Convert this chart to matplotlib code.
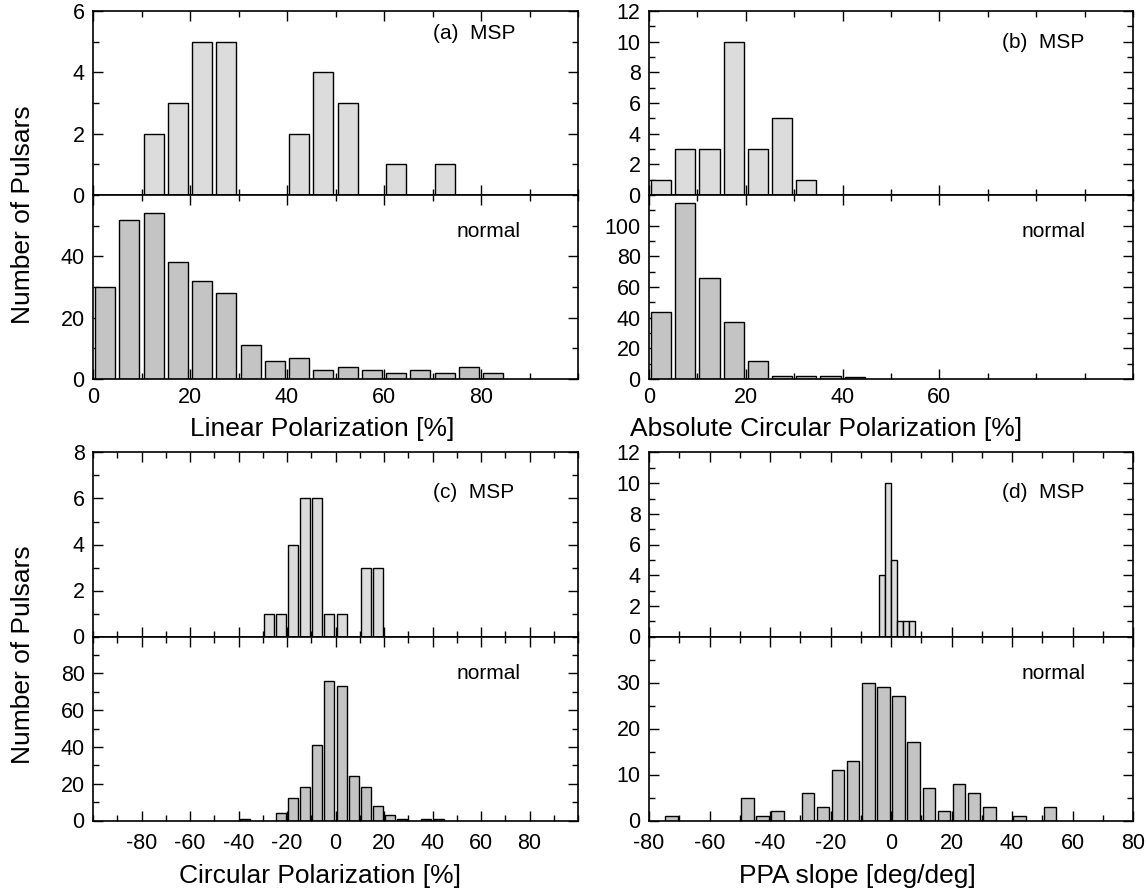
import matplotlib
matplotlib.use("Agg")
import matplotlib.pyplot as plt
from matplotlib.ticker import MultipleLocator, FixedLocator, NullFormatter

plt.rcParams['font.family'] = ['Liberation Sans', 'DejaVu Sans']

# (a) linear polarization, 5% bins
lin_msp_x = [12.5, 17.5, 22.5, 27.5, 42.5, 47.5, 52.5, 62.5, 72.5]
lin_msp_n = [2, 3, 5, 5, 2, 4, 3, 1, 1]
lin_norm_x = [2.5, 7.5, 12.5, 17.5, 22.5, 27.5, 32.5, 37.5, 42.5, 47.5,
              52.5, 57.5, 62.5, 67.5, 72.5, 77.5, 82.5]
lin_norm_n = [30, 52, 54, 38, 32, 28, 11, 6, 7, 3, 4, 3, 2, 3, 2, 4, 2]

# (b) absolute circular polarization, 5% bins
acp_msp_x = [2.5, 7.5, 12.5, 17.5, 22.5, 27.5, 32.5]
acp_msp_n = [1, 3, 3, 10, 3, 5, 1]
acp_norm_x = [2.5, 7.5, 12.5, 17.5, 22.5, 27.5, 32.5, 37.5, 42.5]
acp_norm_n = [44, 115, 66, 37, 12, 2, 2, 2, 1]

# (c) circular polarization, 5% bins
cp_msp_x = [-27.5, -22.5, -17.5, -12.5, -7.5, -2.5, 2.5, 12.5, 17.5]
cp_msp_n = [1, 1, 4, 6, 6, 1, 1, 3, 3]
cp_norm_x = [-37.5, -22.5, -17.5, -12.5, -7.5, -2.5, 2.5, 7.5, 12.5,
             17.5, 22.5, 27.5, 37.5, 42.5]
cp_norm_n = [1, 4, 12, 18, 41, 76, 73, 24, 18, 8, 3, 1, 1, 1]

# (d) PPA slope (MSP in 2 deg/deg bins, normal in 5 deg/deg bins)
ppa_msp_x = [-3, -1, 1, 3, 5, 7]
ppa_msp_n = [4, 10, 5, 1, 1, 1]
ppa_norm_x = [-72.5, -47.5, -42.5, -37.5, -27.5, -22.5, -17.5, -12.5, -7.5,
              -2.5, 2.5, 7.5, 12.5, 17.5, 22.5, 27.5, 32.5, 42.5, 52.5]
ppa_norm_n = [1, 5, 1, 2, 6, 3, 11, 13, 30, 29, 27, 17, 7, 2, 8, 6, 3, 1, 3]

MSP_COLOR = '#dcdcdc'
NORM_COLOR = '#c4c4c4'

W, H = 1147, 893
fig = plt.figure(figsize=(W / 100, H / 100), dpi=100)


def px_axes(x0, y0, x1, y1):
    return fig.add_axes([x0 / W, 1 - y1 / H, (x1 - x0) / W, (y1 - y0) / H])


def style(ax):
    ax.tick_params(which='both', direction='in', top=True, right=True,
                   labelsize=15.5, width=1.0)
    ax.tick_params(which='major', length=7)
    ax.tick_params(which='minor', length=4)
    ax.tick_params(axis='y', pad=6)
    for s in ax.spines.values():
        s.set_linewidth(1.2)


def panel(x0, x1, yt, xs_top, ns_top, w_top, xs_bot, ns_bot, w_bot,
          xlim, xmaj, xmin_step,
          ytop_max, ytop_step, ybot_max, ybot_step, ybot_minor,
          tag, tag_pos, norm_pos, xlabel, xlabel_x, xpad, xlabel_dy):
    yb = yt + 184
    ax1 = px_axes(x0, yt, x1, yb)
    ax2 = px_axes(x0, yb, x1, yb + 184)
    ax1.bar(xs_top, ns_top, width=w_top, color=MSP_COLOR,
            edgecolor='black', linewidth=1.0, zorder=2)
    ax2.bar(xs_bot, ns_bot, width=w_bot, color=NORM_COLOR,
            edgecolor='black', linewidth=1.0, zorder=2)
    for ax in (ax1, ax2):
        ax.set_xlim(*xlim)
        ax.xaxis.set_major_locator(FixedLocator(xmaj))
        ax.xaxis.set_minor_locator(MultipleLocator(xmin_step))
        style(ax)
    ax1.set_ylim(0, ytop_max)
    ax1.yaxis.set_major_locator(MultipleLocator(ytop_step))
    ax1.yaxis.set_minor_locator(MultipleLocator(ytop_step / 2))
    ax1.xaxis.set_major_formatter(NullFormatter())
    ax2.set_ylim(0, ybot_max)
    ax2.set_yticks(list(range(0, ybot_max, ybot_step)))
    ax2.yaxis.set_minor_locator(MultipleLocator(ybot_minor))
    ax2.set_xticklabels([str(v) for v in xmaj])
    ax2.tick_params(axis='x', pad=xpad)
    ax1.text(tag_pos[0], tag_pos[1], tag, transform=ax1.transAxes,
             fontsize=15, ha='left', va='center')
    ax2.text(norm_pos[0], norm_pos[1], 'normal', transform=ax2.transAxes,
             fontsize=15, ha='left', va='center')
    fig.text(xlabel_x / W, 1 - (yb + 184 + xlabel_dy) / H, xlabel,
             fontsize=19, ha='center', va='center')
    return ax1, ax2


LX0, LX1 = 93, 578
RX0, RX1 = 649, 1133

panel(LX0, LX1, 11, lin_msp_x, lin_msp_n, 4.15, lin_norm_x, lin_norm_n, 4.15,
      (0, 100), [0, 20, 40, 60, 80], 10,
      6, 2, 60, 20, 10,
      '(a)  MSP', (0.70, 0.88), (0.75, 0.80),
      'Linear Polarization [%]', 322, 6, 50)

panel(RX0, RX1, 11, acp_msp_x, acp_msp_n, 4.15, acp_norm_x, acp_norm_n, 4.15,
      (0, 100), [0, 20, 40, 60], 10,
      12, 2, 120, 20, 10,
      '(b)  MSP', (0.73, 0.83), (0.77, 0.80),
      'Absolute Circular Polarization [%]', 826, 6, 50)

panel(LX0, LX1, 452.5, cp_msp_x, cp_msp_n, 4.15, cp_norm_x, cp_norm_n, 4.15,
      (-100, 100), list(range(-80, 81, 20)), 10,
      8, 2, 100, 20, 10,
      '(c)  MSP', (0.70, 0.785), (0.75, 0.80),
      'Circular Polarization [%]', 320, 9, 55)

panel(RX0, RX1, 452.5, ppa_msp_x, ppa_msp_n, 1.8, ppa_norm_x, ppa_norm_n, 4.15,
      (-80, 80), list(range(-80, 81, 20)), 10,
      12, 2, 40, 10, 5,
      '(d)  MSP', (0.73, 0.785), (0.77, 0.80),
      'PPA slope [deg/deg]', 857, 9, 55)

fig.text(23 / W, 1 - 215 / H, 'Number of Pulsars', fontsize=19,
         rotation=90, ha='center', va='center')
fig.text(23 / W, 1 - 655 / H, 'Number of Pulsars', fontsize=19,
         rotation=90, ha='center', va='center')

fig.savefig('out.png', dpi=100)
